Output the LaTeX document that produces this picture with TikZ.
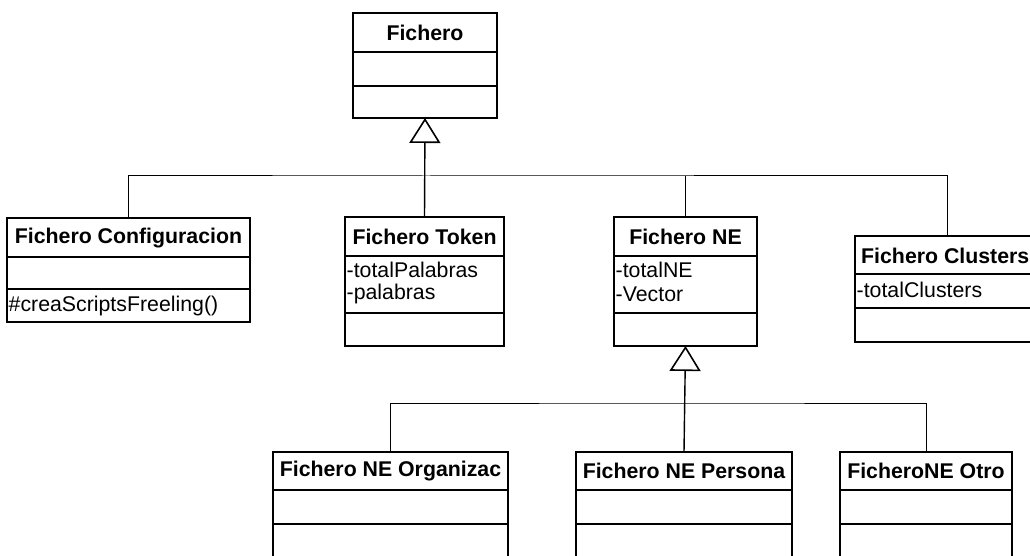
\documentclass[tikz,border=0pt]{standalone}
\usepackage{fontspec}
\setmainfont{Liberation Sans}
\usetikzlibrary{arrows.meta}

\tikzset{
  cls/.style={draw, line width=1.6pt, rectangle, anchor=north west, inner sep=0pt, outer sep=0pt},
  sep/.style={line width=1.6pt},
  title/.style={font=\fontsize{21.3}{24}\selectfont\bfseries, inner sep=0pt, anchor=center},
  member/.style={font=\fontsize{21.3}{24}\selectfont, inner sep=0pt, anchor=west, align=left},
  conn/.style={line width=1pt},
  gen/.style={line width=1.4pt, -{Triangle[open, length=25pt, width=31pt, line width=1.6pt]}},
}

\begin{document}
\begin{tikzpicture}[x=1pt, y=-1pt]
  \useasboundingbox (0,0) rectangle (1030,556);
  \clip (0,0) rectangle (1030,556);

  % Fichero
  \node[cls, minimum width=144pt, minimum height=105pt] (fichero) at (353,13) {};
  \draw[sep] (353,52) -- (497,52);
  \draw[sep] (353,86) -- (497,86);
  \node[title] (ficheroT) at (425,33) {Fichero};

  % Fichero Configuracion
  \node[cls, minimum width=243pt, minimum height=104pt] (config) at (7,218) {};
  \draw[sep] (7,257) -- (250,257);
  \draw[sep] (7,289) -- (250,289);
  \node[title] (configT) at (128.5,238) {Fichero Configuracion};
  \node[member] (configO) at (8.5,306) {\#creaScriptsFreeling()};

  % Fichero Token
  \node[cls, minimum width=159pt, minimum height=129pt] (token) at (345,217) {};
  \draw[sep] (345,256) -- (504,256);
  \draw[sep] (345,313) -- (504,313);
  \node[title] (tokenT) at (424.5,237) {Fichero Token};
  \node[member] (tokenA) at (346.5,270) {-totalPalabras};
  \node[member] (tokenB) at (346.5,294) {-palabras};

  % Fichero NE
  \node[cls, minimum width=143pt, minimum height=129pt] (ne) at (614,217) {};
  \draw[sep] (614,256) -- (757,256);
  \draw[sep] (614,313) -- (757,313);
  \node[title] (neT) at (685.5,237) {Fichero NE};
  \node[member] (neA) at (615.5,270) {-totalNE};
  \node[member] (neB) at (615.5,294) {-Vector};

  % Fichero Clusters (runs past the right edge)
  \node[cls, minimum width=184pt, minimum height=106pt] (clusters) at (855,236) {};
  \draw[sep] (855,274) -- (1039,274);
  \draw[sep] (855,308) -- (1039,308);
  \node[title, anchor=west] (clustersT) at (861,256) {Fichero Clusters};
  \node[member] (clustersA) at (856.5,290) {-totalClusters};

  % Fichero NE Organizac
  \node[cls, minimum width=235pt, minimum height=130pt] (organizac) at (273,452) {};
  \draw[sep] (273,490) -- (508,490);
  \draw[sep] (273,524) -- (508,524);
  \node[title] (organizacT) at (390.5,471) {Fichero NE Organizac};

  % Fichero NE Persona
  \node[cls, minimum width=216pt, minimum height=130pt] (persona) at (576,452) {};
  \draw[sep] (576,490) -- (792,490);
  \draw[sep] (576,524) -- (792,524);
  \node[title] (personaT) at (684,471) {Fichero NE Persona};

  % FicheroNE Otro
  \node[cls, minimum width=172pt, minimum height=130pt] (otro) at (840,452) {};
  \draw[sep] (840,490) -- (1012,490);
  \draw[sep] (840,524) -- (1012,524);
  \node[title] (otroT) at (926,471) {FicheroNE Otro};

  % generalisation of Fichero
  \coordinate (busTop) at (425,176);
  \draw[gen] (token.north) -- (fichero.south);
  \draw[conn] (config.north) |- (busTop) -| (clusters.north);
  \draw[conn] (ne.north) -- (ne.north |- busTop);

  % generalisation of Fichero NE
  \coordinate (busBot) at (685,403);
  \draw[gen] (persona.north) -- (ne.south);
  \draw[conn] (organizac.north) |- (busBot) -| (otro.north);
\end{tikzpicture}
\end{document}
